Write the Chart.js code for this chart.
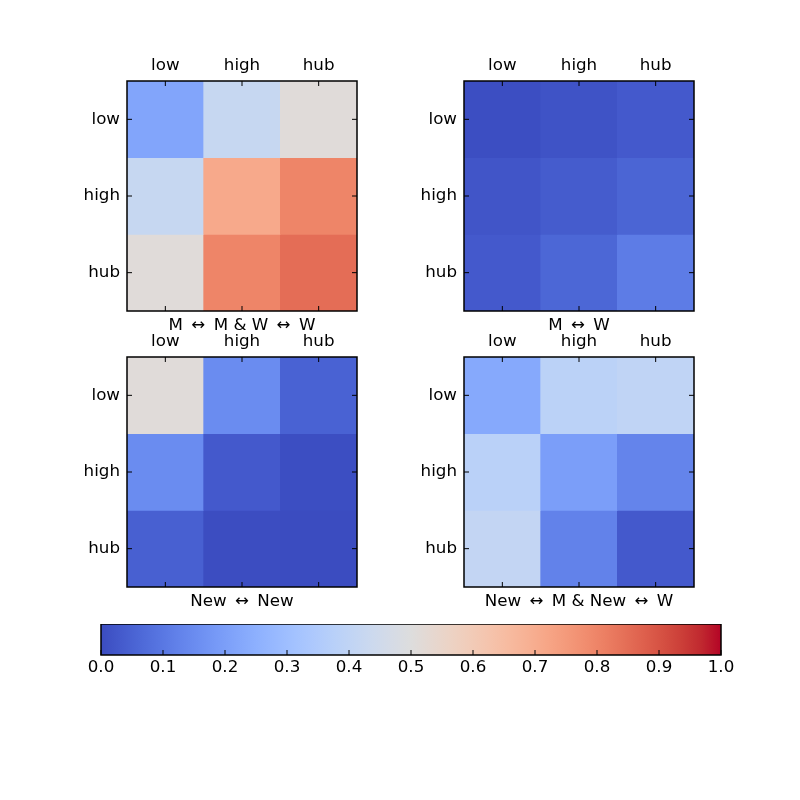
<!DOCTYPE html>
<html>
<head>
<meta charset="utf-8">
<script src="https://cdn.jsdelivr.net/npm/chart.js@4"></script>
<style>
  body { margin: 0; background: #fff; }
  #page { position: relative; width: 800px; height: 800px; background: #fff; overflow: hidden; }
  canvas { position: absolute; }
</style>
</head>
<body>
<div id="page">
  <canvas id="heat-0" width="300" height="310" style="left:67px;top:41px"></canvas>
  <canvas id="heat-1" width="300" height="310" style="left:404px;top:41px"></canvas>
  <canvas id="heat-2" width="300" height="310" style="left:67px;top:317px"></canvas>
  <canvas id="heat-3" width="300" height="310" style="left:404px;top:317px"></canvas>
  <canvas id="colorbar" width="660" height="70" style="left:81px;top:624px"></canvas>
</div>
<script>
// Axis labels
const rowLabels = ['low', 'high', 'hub'];
const colLabels = ['low', 'high', 'hub'];

// Panel titles (shown under each matrix); en spaces around the arrows
const panelTitles = [
    'M\u2002\u2194\u2002M & W\u2002\u2194\u2002W',
    'M\u2002\u2194\u2002W',
    'New\u2002\u2194\u2002New',
    'New\u2002\u2194\u2002M & New\u2002\u2194\u2002W'
];

// Matrix values, one row per rowLabels entry
const mixedMW = [
    [0.22, 0.42, 0.51],
    [0.42, 0.71, 0.80],
    [0.51, 0.80, 0.85]
];
const plainMW = [
    [0.005, 0.015, 0.03],
    [0.02, 0.035, 0.055],
    [0.03, 0.06, 0.11]
];
const newNew = [
    [0.51, 0.15, 0.05],
    [0.15, 0.03, 0.005],
    [0.045, 0.003, 0.0]
];
const newMixed = [
    [0.23, 0.385, 0.40],
    [0.38, 0.20, 0.13],
    [0.41, 0.125, 0.03]
];
const panelValues = [mixedMW, plainMW, newNew, newMixed];

// Colour bar range and tick step
const cbarRange = [0, 1];
const cbarStep = 0.1;

const FONT = { family: 'DejaVu Sans', size: 16.7 };

// coolwarm colour map (Moreland table, 33 stops)
const coolwarm = [
    [59,76,192],[68,90,204],[77,104,215],[87,117,225],[98,130,234],[108,142,241],
    [119,154,247],[130,165,251],[141,176,254],[152,185,255],[163,194,255],[174,201,253],
    [184,208,249],[194,213,244],[204,217,238],[213,219,230],[221,221,221],[229,216,209],
    [236,211,197],[241,204,185],[245,196,173],[247,187,160],[247,177,148],[247,166,135],
    [244,154,123],[241,141,111],[236,127,99],[229,112,88],[222,96,77],[213,80,66],
    [203,62,56],[192,40,47],[180,4,38]
];

function cmap(v) {
    const t = Math.min(1, Math.max(0, v)) * (coolwarm.length - 1);
    const i = Math.min(coolwarm.length - 2, Math.floor(t));
    const f = t - i;
    const a = coolwarm[i], b = coolwarm[i + 1];
    const c = a.map((x, k) => Math.round(x + (b[k] - x) * f));
    return `rgb(${c[0]},${c[1]},${c[2]})`;
}

// Frame plus inward pointing tick marks, like the classic matplotlib style
const frameTicks = {
    id: 'frameTicks',
    afterDraw(chart, args, opts) {
        const { ctx, chartArea: a } = chart;
        const len = 5;
        ctx.save();
        ctx.strokeStyle = '#000';
        ctx.lineWidth = 1;
        ctx.beginPath();
        const xs = chart.scales.x;
        const xPix = opts.colorbar
            ? xs.ticks.map(t => xs.getPixelForValue(t.value))
            : xs.ticks.map((t, i) => xs.getPixelForTick(i));
        xPix.forEach(px => {
            ctx.moveTo(px, a.bottom);
            ctx.lineTo(px, a.bottom - len);
            if (!opts.colorbar) {
                ctx.moveTo(px, a.top);
                ctx.lineTo(px, a.top + len);
            }
        });
        if (!opts.colorbar) {
            const ys = chart.scales.y;
            ys.ticks.forEach(t => {
                const py = ys.getPixelForValue(t.value);
                ctx.moveTo(a.left, py);
                ctx.lineTo(a.left + len, py);
                ctx.moveTo(a.right, py);
                ctx.lineTo(a.right - len, py);
            });
        }
        ctx.stroke();
        ctx.lineWidth = 1.5;
        ctx.strokeRect(a.left, a.top, a.right - a.left, a.bottom - a.top);
        ctx.restore();
    }
};

function makeHeatmap(canvasId, values, title) {
    const ctx = document.getElementById(canvasId).getContext('2d');
    return new Chart(ctx, {
        type: 'bar',
        data: {
            labels: colLabels,
            datasets: rowLabels.map((row, r) => ({
                label: row,
                data: colLabels.map(() => 1),
                backgroundColor: values[r].map(v => cmap(v)),
                borderWidth: 0,
                categoryPercentage: 1,
                barPercentage: 1
            }))
        },
        options: {
            responsive: false,
            animation: false,
            events: [],
            layout: { padding: { right: 10, bottom: 10, top: 0, left: 0 } },
            scales: {
                x: {
                    type: 'category',
                    position: 'top',
                    stacked: true,
                    grid: { display: false, drawTicks: false },
                    border: { display: false },
                    ticks: { font: FONT, color: '#000', padding: 5, maxRotation: 0 },
                    afterFit: s => { s.height = 40; }
                },
                xb: {
                    type: 'category',
                    axis: 'x',
                    position: 'bottom',
                    grid: { display: false, drawTicks: false },
                    border: { display: false },
                    ticks: { display: false },
                    title: { display: true, text: title, font: FONT, color: '#000', padding: { top: 0, bottom: 5 } },
                    afterFit: s => { s.height = 30; }
                },
                y: {
                    type: 'linear',
                    stacked: true,
                    reverse: true,
                    min: 0,
                    max: rowLabels.length,
                    grid: { display: false, drawTicks: false },
                    border: { display: false },
                    afterBuildTicks: s => { s.ticks = rowLabels.map((_, i) => ({ value: i + 0.5 })); },
                    ticks: {
                        font: FONT, color: '#000', padding: 7,
                        callback: (v, i) => rowLabels[i]
                    },
                    afterFit: s => { s.width = 60; }
                }
            },
            plugins: {
                legend: { display: false },
                tooltip: { enabled: false },
                frameTicks: { colorbar: false }
            }
        },
        plugins: [frameTicks]
    });
}

function makeColorbar() {
    const ctx = document.getElementById('colorbar').getContext('2d');
    return new Chart(ctx, {
        type: 'bar',
        data: {
            labels: [''],
            datasets: [{
                data: [cbarRange],
                backgroundColor: (c) => {
                    const area = c.chart.chartArea;
                    if (!area) return cmap(0.5);
                    const g = c.chart.ctx.createLinearGradient(area.left, 0, area.right, 0);
                    coolwarm.forEach((col, i) => {
                        g.addColorStop(i / (coolwarm.length - 1), `rgb(${col[0]},${col[1]},${col[2]})`);
                    });
                    return g;
                },
                borderWidth: 0,
                categoryPercentage: 1,
                barPercentage: 1
            }]
        },
        options: {
            indexAxis: 'y',
            responsive: false,
            animation: false,
            events: [],
            layout: { padding: { left: 20, right: 20, top: 0, bottom: 0 } },
            scales: {
                x: {
                    type: 'linear',
                    position: 'bottom',
                    min: cbarRange[0],
                    max: cbarRange[1],
                    grid: { display: false, drawTicks: false },
                    border: { display: false },
                    ticks: {
                        stepSize: cbarStep,
                        font: FONT, color: '#000', padding: 3, maxRotation: 0,
                        callback: v => v.toFixed(1)
                    },
                    afterFit: s => { s.height = 39; }
                },
                y: { display: false }
            },
            plugins: {
                legend: { display: false },
                tooltip: { enabled: false },
                frameTicks: { colorbar: true }
            }
        },
        plugins: [frameTicks]
    });
}

function init() {
    panelValues.forEach((vals, i) => makeHeatmap('heat-' + i, vals, panelTitles[i]));
    makeColorbar();
}

init();
</script>
</body>
</html>
